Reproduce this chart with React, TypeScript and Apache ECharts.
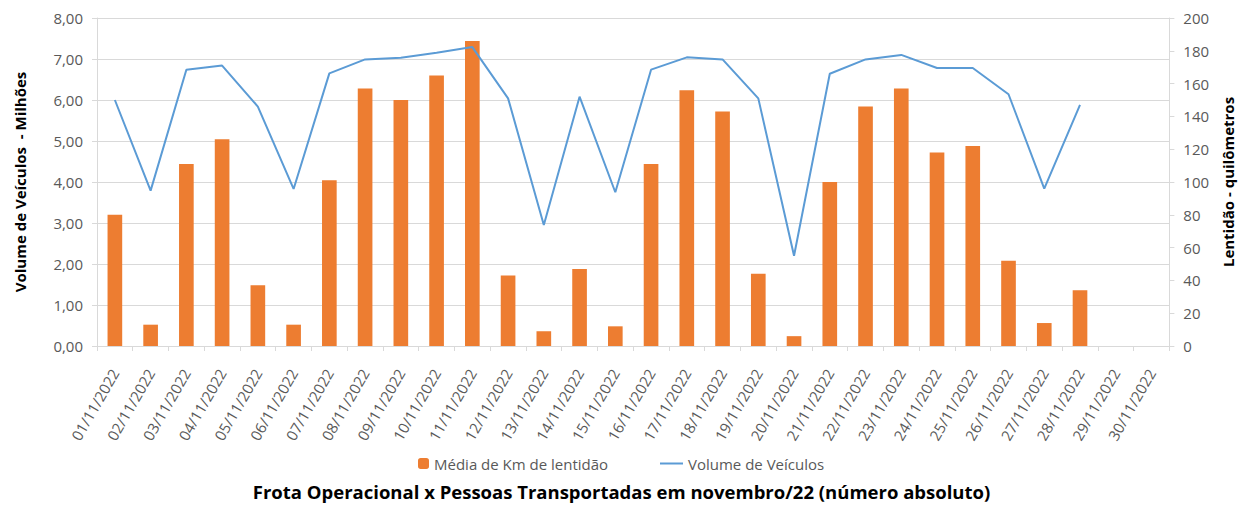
import React, { useEffect, useRef } from "react";
import * as echarts from "echarts";

const categories = [
  "01/11/2022", "02/11/2022", "03/11/2022", "04/11/2022", "05/11/2022",
  "06/11/2022", "07/11/2022", "08/11/2022", "09/11/2022", "10/11/2022",
  "11/11/2022", "12/11/2022", "13/11/2022", "14/11/2022", "15/11/2022",
  "16/11/2022", "17/11/2022", "18/11/2022", "19/11/2022", "20/11/2022",
  "21/11/2022", "22/11/2022", "23/11/2022", "24/11/2022", "25/11/2022",
  "26/11/2022", "27/11/2022", "28/11/2022", "29/11/2022", "30/11/2022",
];

// Média de Km de lentidão (right axis, km)
const lentidaoKm = [
  80, 13, 111, 126, 37, 13, 101, 157, 150, 165,
  186, 43, 9, 47, 12, 111, 156, 143, 44, 6,
  100, 146, 157, 118, 122, 52, 14, 34, null, null,
];

// Volume de Veículos (left axis, millions)
const volumeMilhoes = [
  6.0, 3.79, 6.74, 6.84, 5.84, 3.83, 6.65, 6.99, 7.03, 7.15,
  7.29, 6.04, 2.95, 6.08, 3.75, 6.74, 7.04, 6.99, 6.04, 2.2,
  6.64, 6.99, 7.1, 6.78, 6.78, 6.14, 3.84, 5.88, null, null,
];

const FONT = "Open Sans";
const TEXT = "#595959";
const GRID = "#d9d9d9";

export default function App() {
  const ref = useRef<HTMLDivElement>(null);
  useEffect(() => {
    if (!ref.current) return;
    const chart = echarts.init(ref.current, null, { renderer: "svg" });
    chart.setOption({
      animation: false,
      textStyle: { fontFamily: FONT },
      title: {
        text: "Frota Operacional x Pessoas Transportadas em novembro/22 (número absoluto)",
        left: "center",
        top: 480,
        padding: 0,
        textStyle: { fontFamily: FONT, fontSize: 18.5, lineHeight: 22, fontWeight: "bold", color: "#000" },
      },
      legend: [
        {
          data: ["Média de Km de lentidão"],
          left: 413,
          top: 451,
          itemWidth: 11,
          itemHeight: 11,
          itemGap: 4,
          textStyle: { fontFamily: FONT, fontSize: 15, color: TEXT },
        },
        {
          data: [{ name: "Volume de Veículos", icon: "rect" }],
          left: 655,
          top: 451,
          itemWidth: 23,
          itemHeight: 2,
          itemGap: 3,
          textStyle: { fontFamily: FONT, fontSize: 15, color: TEXT },
        },
      ],
      grid: { left: 97, right: 72, top: 18, bottom: 159, containLabel: false },
      xAxis: {
        type: "category",
        data: categories,
        boundaryGap: true,
        axisLine: { lineStyle: { color: GRID } },
        axisTick: { show: true, length: 5, lineStyle: { color: GRID } },
        axisLabel: {
          interval: 0,
          rotate: 60,
          margin: 24,
          fontFamily: FONT,
          fontSize: 15,
          color: TEXT,
        },
      },
      yAxis: [
        {
          type: "value",
          min: 0,
          max: 8,
          interval: 1,
          name: "Volume de Veículos  - Milhões",
          nameLocation: "middle",
          nameGap: 70,
          nameRotate: 90,
          nameTextStyle: { fontFamily: FONT, fontSize: 15, fontWeight: "bold", color: "#000" },
          axisLine: { show: true, lineStyle: { color: GRID } },
          axisTick: { show: true, length: 5, lineStyle: { color: GRID } },
          splitLine: { show: true, lineStyle: { color: GRID, width: 1 } },
          axisLabel: {
            margin: 14,
            fontFamily: FONT,
            fontSize: 15,
            color: TEXT,
            formatter: (v: number) => v.toFixed(2).replace(".", ","),
          },
        },
        {
          type: "value",
          min: 0,
          max: 200,
          interval: 20,
          position: "right",
          name: "Lentidão - quilômetros",
          nameLocation: "middle",
          nameGap: 49,
          nameRotate: 90,
          nameTextStyle: { fontFamily: FONT, fontSize: 15, fontWeight: "bold", color: "#000" },
          axisLine: { show: true, lineStyle: { color: GRID } },
          axisTick: { show: true, length: 5, lineStyle: { color: GRID } },
          splitLine: { show: false },
          axisLabel: { margin: 14, fontFamily: FONT, fontSize: 15, color: TEXT },
        },
      ],
      series: [
        {
          name: "Média de Km de lentidão",
          type: "bar",
          yAxisIndex: 1,
          data: lentidaoKm,
          barWidth: "41%",
          itemStyle: { color: "#ED7D31" },
        },
        {
          name: "Volume de Veículos",
          type: "line",
          yAxisIndex: 0,
          data: volumeMilhoes,
          symbol: "none",
          showSymbol: false,
          connectNulls: false,
          lineStyle: { color: "#5B9BD5", width: 2 },
          itemStyle: { color: "#5B9BD5" },
        },
      ],
    });
    return () => chart.dispose();
  }, []);
  return (
    <div
      ref={ref}
      style={{ position: "fixed", left: 0, top: 0, width: 1243, height: 505, background: "#fff" }}
    />
  );
}
